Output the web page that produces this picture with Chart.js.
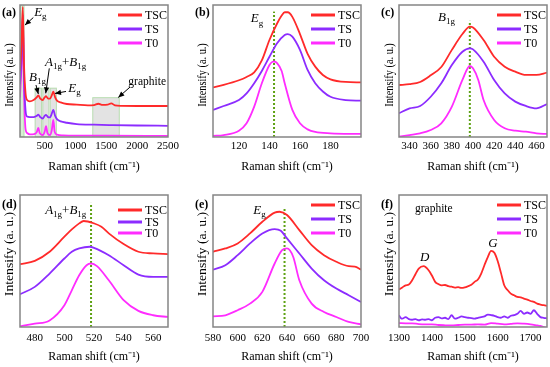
<!DOCTYPE html>
<html><head><meta charset="utf-8">
<script src="https://cdn.jsdelivr.net/npm/chart.js@4.4.1/dist/chart.umd.min.js"></script>
<style>
html,body{margin:0;padding:0;background:#fff;}
#wrap{position:relative;width:550px;height:367px;overflow:hidden;background:#fff;}
canvas{position:absolute;}
</style></head><body>
<div id="wrap">
<canvas id="pa"></canvas><canvas id="pb"></canvas><canvas id="pc"></canvas>
<canvas id="pd"></canvas><canvas id="pe"></canvas><canvas id="pf"></canvas>
</div>
<script>
// ---------- data ----------
const SERIES = ['TSC', 'TS', 'T0'];

const A_TICKS = [500, 1000, 1500, 2000, 2500];
const A_TSC = [[100,0.5],[125,0.7],[145,0.985],[165,0.55],[190,0.33],[215,0.28],[260,0.27],[320,0.28],[370,0.30],[397,0.315],[430,0.29],[468,0.28],[500,0.30],[522,0.31],[555,0.29],[586,0.29],[610,0.31],[640,0.343],[670,0.30],[700,0.275],[760,0.262],[860,0.25],[1020,0.245],[1200,0.24],[1300,0.242],[1370,0.252],[1440,0.243],[1520,0.245],[1580,0.255],[1640,0.24],[1750,0.236],[2000,0.235],[2500,0.235]];
const A_TS  = [[100,0.4],[125,0.6],[145,0.93],[165,0.45],[190,0.2],[215,0.155],[260,0.15],[320,0.15],[370,0.16],[397,0.17],[430,0.15],[468,0.14],[500,0.16],[522,0.168],[555,0.15],[586,0.148],[610,0.17],[640,0.205],[670,0.16],[700,0.135],[760,0.118],[860,0.108],[1020,0.098],[1300,0.093],[1600,0.09],[2000,0.087],[2500,0.085]];
const A_T0  = [[100,0.3],[125,0.55],[145,0.9],[165,0.35],[190,0.06],[215,0.03],[260,0.02],[330,0.022],[370,0.035],[397,0.068],[420,0.03],[468,0.015],[500,0.04],[522,0.083],[545,0.03],[586,0.015],[615,0.05],[640,0.13],[662,0.04],[700,0.018],[800,0.012],[1000,0.01],[1500,0.01],[2500,0.008]];

const B_TICKS = [120, 140, 160, 180];
const B_TSC = [[103,0.376],[110,0.395],[120,0.43],[125,0.455],[130,0.49],[135,0.58],[140,0.735],[145,0.86],[148,0.92],[150,0.945],[152,0.945],[155,0.91],[160,0.78],[165,0.63],[170,0.533],[175,0.47],[180,0.437],[190,0.417],[200,0.414]];
const B_TS  = [[103,0.205],[110,0.235],[120,0.28],[125,0.33],[130,0.407],[135,0.5],[140,0.608],[145,0.71],[150,0.773],[152,0.78],[155,0.76],[160,0.66],[165,0.508],[170,0.407],[175,0.345],[180,0.305],[190,0.28],[200,0.275]];
const B_T0  = [[103,0.008],[110,0.015],[120,0.048],[125,0.104],[130,0.23],[135,0.407],[140,0.545],[142,0.57],[143,0.572],[145,0.56],[148,0.5],[150,0.407],[155,0.205],[160,0.104],[165,0.058],[170,0.038],[180,0.028],[200,0.023]];

const C_TICKS = [340, 360, 380, 400, 420, 440, 460];
const C_TSC = [[330,0.394],[340,0.4],[350,0.417],[360,0.467],[370,0.53],[380,0.66],[390,0.78],[397,0.836],[400,0.83],[410,0.735],[420,0.608],[430,0.533],[440,0.495],[450,0.47],[460,0.47],[470,0.488]];
const C_TS  = [[330,0.18],[340,0.217],[350,0.235],[360,0.305],[370,0.407],[380,0.545],[390,0.646],[397,0.672],[400,0.664],[410,0.57],[420,0.432],[430,0.33],[440,0.268],[450,0.235],[460,0.217],[470,0.25]];
const C_T0  = [[330,0.003],[340,0.015],[350,0.028],[360,0.053],[370,0.104],[380,0.23],[390,0.432],[397,0.538],[400,0.52],[405,0.432],[410,0.28],[420,0.129],[430,0.066],[440,0.048],[450,0.04],[460,0.028],[470,0.023]];

const D_TICKS = [480, 500, 520, 540, 560];
const D_TSC = [[470,0.476],[480,0.501],[490,0.57],[500,0.684],[505,0.739],[510,0.785],[513,0.803],[520,0.785],[525,0.76],[530,0.709],[540,0.628],[550,0.57],[560,0.557],[570,0.552]];
const D_TS  = [[470,0.248],[480,0.304],[490,0.405],[500,0.519],[505,0.57],[510,0.595],[517,0.608],[520,0.6],[530,0.544],[540,0.468],[550,0.397],[560,0.38],[570,0.38]];
const D_T0  = [[470,0.005],[480,0.025],[490,0.05],[500,0.165],[505,0.278],[510,0.392],[515,0.468],[518,0.481],[522,0.461],[530,0.354],[540,0.203],[550,0.122],[560,0.089],[570,0.076]];

const E_TICKS = [580, 600, 620, 640, 660, 680, 700];
const E_TSC = [[580,0.57],[590,0.595],[600,0.633],[610,0.709],[620,0.797],[630,0.866],[634,0.873],[640,0.848],[650,0.734],[660,0.62],[670,0.544],[680,0.494],[690,0.461],[695,0.458],[700,0.435]];
const E_TS  = [[580,0.435],[590,0.468],[600,0.544],[610,0.633],[620,0.709],[630,0.742],[635,0.729],[640,0.671],[650,0.557],[660,0.443],[670,0.354],[680,0.291],[690,0.241],[700,0.19]];
const E_T0  = [[580,0.081],[590,0.089],[600,0.127],[610,0.177],[620,0.266],[630,0.481],[636,0.582],[640,0.595],[645,0.532],[650,0.354],[660,0.177],[670,0.114],[680,0.076],[690,0.038],[700,0.02]];

const F_TICKS = [1300, 1400, 1500, 1600, 1700];
const F_TSC = [[1300,0.284],[1310,0.3],[1320,0.316],[1330,0.322],[1340,0.354],[1350,0.4],[1360,0.443],[1375,0.461],[1390,0.43],[1400,0.39],[1410,0.342],[1420,0.325],[1430,0.316],[1440,0.318],[1450,0.309],[1460,0.305],[1470,0.299],[1480,0.302],[1490,0.296],[1500,0.3],[1510,0.309],[1520,0.32],[1530,0.342],[1540,0.36],[1550,0.405],[1560,0.47],[1570,0.53],[1580,0.577],[1590,0.562],[1600,0.5],[1610,0.41],[1620,0.316],[1630,0.28],[1640,0.253],[1650,0.24],[1660,0.228],[1670,0.225],[1680,0.215],[1690,0.208],[1700,0.197],[1710,0.19],[1720,0.177],[1730,0.17],[1740,0.165],[1750,0.16]];
const F_TS  = [[1300,0.089],[1305,0.07],[1310,0.063],[1320,0.075],[1330,0.06],[1340,0.055],[1350,0.06],[1360,0.051],[1370,0.058],[1380,0.055],[1390,0.06],[1400,0.051],[1410,0.07],[1420,0.075],[1430,0.065],[1440,0.07],[1450,0.06],[1460,0.089],[1470,0.063],[1480,0.07],[1490,0.08],[1500,0.075],[1510,0.07],[1520,0.068],[1530,0.063],[1540,0.07],[1550,0.075],[1560,0.08],[1570,0.094],[1580,0.09],[1590,0.085],[1600,0.075],[1610,0.07],[1620,0.08],[1630,0.07],[1640,0.085],[1650,0.09],[1660,0.1],[1670,0.122],[1680,0.1],[1690,0.11],[1700,0.1],[1710,0.127],[1720,0.1],[1730,0.075],[1740,0.07],[1750,0.065]];
const F_T0  = [[1300,0.03],[1320,0.028],[1340,0.028],[1360,0.022],[1380,0.02],[1400,0.02],[1420,0.015],[1440,0.013],[1460,0.012],[1480,0.015],[1500,0.018],[1520,0.018],[1540,0.02],[1560,0.018],[1580,0.03],[1600,0.025],[1620,0.02],[1640,0.024],[1660,0.028],[1680,0.025],[1700,0.02],[1720,0.012],[1730,0.008],[1740,0.0],[1750,-0.01]];

// ---------- styling ----------
const COLORS = ['#ff2a2a', '#8c2cff', '#ff2cff'];
const GREEN = '#5ea214';
const FONT = "'Liberation Serif','Times New Roman',serif";
const Y_TITLE = 'Intensify (a. u.)';
const X_TITLE = 'Raman shift (cm\u207B\u00B9)';

function drawRich(ctx, parts, x, y, size) {
  ctx.textBaseline = 'middle';
  ctx.textAlign = 'left';
  ctx.fillStyle = '#000';
  let cx = x;
  for (const [t, st] of parts) {
    let fs = size, dy = 0, style = '';
    if (st === 'i') style = 'italic ';
    if (st === 's') { fs = Math.round(size * 0.68); dy = size * 0.32; }
    ctx.font = style + fs + 'px ' + FONT;
    ctx.fillText(t, cx, y + dy);
    cx += ctx.measureText(t).width;
  }
}

function arrow(ctx, x1, y1, x2, y2) {
  ctx.save();
  ctx.strokeStyle = '#000'; ctx.fillStyle = '#000'; ctx.lineWidth = 1;
  ctx.beginPath(); ctx.moveTo(x1, y1); ctx.lineTo(x2, y2); ctx.stroke();
  const a = Math.atan2(y2 - y1, x2 - x1), L = 6, W = 2.6;
  ctx.beginPath();
  ctx.moveTo(x2, y2);
  ctx.lineTo(x2 - L * Math.cos(a) + W * Math.sin(a), y2 - L * Math.sin(a) - W * Math.cos(a));
  ctx.lineTo(x2 - L * Math.cos(a) - W * Math.sin(a), y2 - L * Math.sin(a) + W * Math.cos(a));
  ctx.closePath(); ctx.fill();
  ctx.restore();
}

const decorPlugin = {
  id: 'decor',
  beforeDatasetsDraw(chart, args, o) {
    const {ctx, chartArea: ca, scales: {x, y}} = chart;
    ctx.save();
    ctx.beginPath(); ctx.rect(ca.left, ca.top, ca.width, ca.height); ctx.clip();
    for (const b of (o.bands || [])) {
      const x1 = x.getPixelForValue(b[0]), x2 = x.getPixelForValue(b[1]);
      const y1 = y.getPixelForValue(b[3]), y2 = y.getPixelForValue(b[2]);
      ctx.fillStyle = b[4] === 'g' ? 'rgba(200,232,195,0.7)' : 'rgba(222,222,222,0.85)';
      ctx.fillRect(x1, y1, x2 - x1, y2 - y1);
      ctx.strokeStyle = 'rgba(170,215,160,0.8)'; ctx.lineWidth = 1;
      ctx.strokeRect(x1, y1, x2 - x1, y2 - y1);
    }
    ctx.restore();
  },
  afterDatasetsDraw(chart, args, o) {
    const {ctx, chartArea: ca, scales: {x, y}} = chart;
    ctx.save();
    ctx.strokeStyle = '#858585'; ctx.lineWidth = 1.5;
    ctx.strokeRect(ca.left, ca.top, ca.width, ca.height);
    for (const n of (o.notes || [])) {
      drawRich(ctx, n.parts, x.getPixelForValue(n.x), y.getPixelForValue(n.y), n.size || 12);
    }
    for (const a of (o.arrows || [])) {
      arrow(ctx, x.getPixelForValue(a[0]), y.getPixelForValue(a[1]), x.getPixelForValue(a[2]), y.getPixelForValue(a[3]));
    }
    // legend
    const rows = o.legendRows || [10, 24, 38];
    chart.data.datasets.forEach((ds, i) => {
      if (!SERIES.includes(ds.label)) return;
      const yy = ca.top + rows[i];
      ctx.strokeStyle = ds.borderColor; ctx.lineWidth = 3;
      ctx.beginPath(); ctx.moveTo(ca.right - 50, yy); ctx.lineTo(ca.right - 26, yy); ctx.stroke();
      ctx.fillStyle = '#000'; ctx.font = '12px ' + FONT;
      ctx.textAlign = 'left'; ctx.textBaseline = 'middle';
      ctx.fillText(ds.label, ca.right - 23, yy + 0.5);
    });
    // y-axis title (stretched along its direction like the reference)
    ctx.save();
    ctx.translate(ca.left - (o.yTitleDx || 10), ca.top + o.yTitleDy);
    ctx.rotate(-Math.PI / 2);
    ctx.scale(o.yTitleStretch, 1);
    ctx.fillStyle = '#000'; ctx.font = '12px ' + FONT;
    ctx.textAlign = 'center'; ctx.textBaseline = 'middle';
    ctx.fillText(Y_TITLE, 0, 0);
    ctx.restore();
    // panel label
    ctx.fillStyle = '#000'; ctx.font = 'bold 12px ' + FONT;
    ctx.textAlign = 'left'; ctx.textBaseline = 'middle';
    ctx.fillText(o.label, ca.left - 18, ca.top + (o.labelDy || 8));
    ctx.restore();
  }
};

function makeChart(id, box, cfg) {
  const cv = document.getElementById(id);
  cv.width = box.w; cv.height = box.h;
  cv.style.left = box.x + 'px'; cv.style.top = box.y + 'px';
  const datasets = cfg.series.map((s, i) => ({
    label: SERIES[i], data: s.map(([xv, yv]) => ({x: xv, y: yv})),
    borderColor: COLORS[i], borderWidth: 1.8, pointRadius: 0, fill: false,
    cubicInterpolationMode: 'monotone'
  }));
  if (cfg.mark) datasets.push({
    label: '_mark', data: [{x: cfg.mark[0], y: 0}, {x: cfg.mark[0], y: cfg.mark[1]}],
    borderColor: GREEN, borderWidth: 2, borderDash: [2, 2], pointRadius: 0, fill: false
  });
  const decor = Object.assign({yTitleDy: box.yTitleDy, yTitleStretch: box.yStretch, yTitleDx: box.yTitleDx}, cfg.decor);
  return new Chart(cv, {
    type: 'line',
    data: {datasets},
    options: {
      responsive: false, animation: false, devicePixelRatio: 1,
      layout: {padding: {left: 0, top: box.top, right: box.padRight, bottom: 0}},
      plugins: {legend: {display: false}, tooltip: {enabled: false}, decor},
      scales: {
        x: {
          type: 'linear', min: cfg.min, max: cfg.max,
          grid: {display: false, drawTicks: false}, border: {display: false},
          afterBuildTicks: s => { s.ticks = cfg.ticks.map(v => ({value: v})); },
          ticks: {padding: box.tickPad, color: '#000', font: {family: FONT, size: 11}, maxRotation: 0, autoSkip: false, callback: v => String(v)},
          title: {display: true, text: X_TITLE, color: '#000', font: {family: FONT, size: 12}, padding: {top: 0, bottom: box.titlePad}},
          afterFit: s => { s.height = box.xh; s.paddingLeft = 0; s.paddingRight = 0; }
        },
        y: {
          min: 0, max: 1,
          grid: {display: false, drawTicks: false}, border: {display: false},
          ticks: {display: false},
          title: {display: false},
          afterFit: s => { s.width = box.left; s.paddingTop = 0; s.paddingBottom = 0; }
        }
      }
    },
    plugins: [decorPlugin]
  });
}

const E_G = [['E', 'i'], ['g', 's']];
const TOP = {y: 0, h: 183, top: 5, xh: 46, tickPad: 3, titlePad: 9, yTitleDy: 70, yStretch: 0.86};
const BOT = {y: 183, h: 184, top: 12, xh: 40, tickPad: 4.5, titlePad: 2.5, yTitleDy: 59, yStretch: 1.14};
const COLA = {x: 0, w: 183, left: 20, padRight: 15, yTitleDx: 10};
const COLB = {x: 183, w: 189, left: 30, padRight: 11, yTitleDx: 10};
const COLC = {x: 372, w: 178, left: 27, padRight: 3, yTitleDx: 9};

makeChart('pa', {...TOP, ...COLA}, {
  series: [A_TSC, A_TS, A_T0], min: 100, max: 2500, ticks: A_TICKS,
  decor: {
    label: '(a)',
    bands: [[100, 165, 0, 1, 'g'], [345, 450, 0, 0.37], [470, 570, 0, 0.37], [590, 690, 0, 0.37], [1280, 1710, 0, 0.298]],
    notes: [
      {x: 330, y: 0.94, parts: E_G, size: 13},
      {x: 247, y: 0.448, parts: [['B', 'i'], ['1g', 's']], size: 13},
      {x: 505, y: 0.564, parts: [['A', 'i'], ['1g', 's'], ['+', 'n'], ['B', 'i'], ['1g', 's']], size: 13},
      {x: 883, y: 0.364, parts: E_G, size: 13},
      {x: 1857, y: 0.419, parts: [['graphite', 'n']], size: 11.5}
    ],
    arrows: [[316, 0.905, 181, 0.848], [359, 0.394, 397, 0.326], [575, 0.52, 517, 0.331], [846, 0.345, 668, 0.33], [1884, 0.378, 1694, 0.30]]
  }
});
makeChart('pb', {...TOP, ...COLB}, {
  series: [B_TSC, B_TS, B_T0], min: 103, max: 200, ticks: B_TICKS, mark: [143, 0.95],
  decor: {label: '(b)', notes: [{x: 127.7, y: 0.894, parts: E_G, size: 13}]}
});
makeChart('pc', {...TOP, ...COLC}, {
  series: [C_TSC, C_TS, C_T0], min: 330, max: 470, ticks: C_TICKS, mark: [397, 0.88],
  decor: {label: '(c)', notes: [{x: 367, y: 0.905, parts: [['B', 'i'], ['1g', 's']], size: 13}]}
});
makeChart('pd', {...BOT, ...COLA}, {
  series: [D_TSC, D_TS, D_T0], min: 470, max: 570, ticks: D_TICKS, mark: [518, 0.94],
  decor: {label: '(d)', labelDy: 10, legendRows: [15, 27, 38],
    notes: [{x: 487, y: 0.88, parts: [['A', 'i'], ['1g', 's'], ['+', 'n'], ['B', 'i'], ['1g', 's']], size: 13}]}
});
makeChart('pe', {...BOT, ...COLB}, {
  series: [E_TSC, E_TS, E_T0], min: 580, max: 700, ticks: E_TICKS, mark: [638, 0.9],
  decor: {label: '(e)', labelDy: 10, notes: [{x: 612.7, y: 0.88, parts: E_G, size: 13}]}
});
makeChart('pf', {...BOT, ...COLC}, {
  series: [F_TSC, F_TS, F_T0], min: 1300, max: 1750, ticks: F_TICKS,
  decor: {label: '(f)', labelDy: 10, notes: [
    {x: 1348.6, y: 0.892, parts: [['graphite', 'n']], size: 11.5},
    {x: 1364, y: 0.527, parts: [['D', 'i']], size: 13},
    {x: 1571.5, y: 0.629, parts: [['G', 'i']], size: 13}
  ]}
});
</script>
</body></html>
